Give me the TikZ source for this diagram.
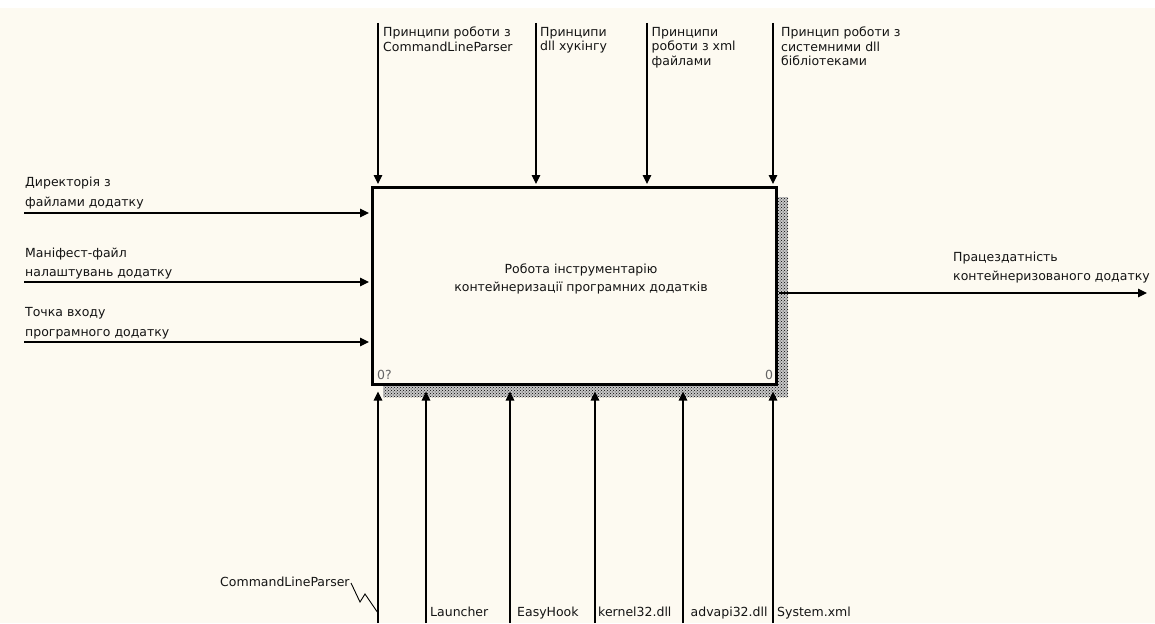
\documentclass[tikz,border=0pt]{standalone}
\usepackage{fontspec}
\setmainfont{DejaVu Sans}
\usetikzlibrary{arrows.meta,patterns}
\definecolor{paper}{RGB}{253,250,241}
\definecolor{ink}{RGB}{20,20,20}
\definecolor{tagc}{RGB}{100,100,100}

\begin{document}
\begin{tikzpicture}[x=1pt,y=-1pt,
  lbl/.style={font=\fontsize{12.5}{19.4}\selectfont, text=ink, inner sep=0pt, align=left, anchor=north west},
  toplbl/.style={lbl, font=\fontsize{12.5}{14.5}\selectfont},
  outlbl/.style={lbl, font=\fontsize{12.5}{18.3}\selectfont},
  botlbl/.style={font=\fontsize{12.5}{15}\selectfont, text=ink, inner sep=0pt, anchor=base west},
  tagtxt/.style={font=\fontsize{12.5}{15}\selectfont, text=tagc, inner sep=0pt, anchor=south west},
  arr/.style={line width=1.1pt, -{Triangle[length=9pt,width=8.5pt]}},
  funcbox/.style={draw, line width=3pt, fill=paper, minimum width=404pt, minimum height=197.5pt, inner sep=0pt},
]
% sheet
\fill[paper] (0,0) rectangle (1155,623);
\fill[white] (0,0) rectangle (1155,8);
\useasboundingbox (0,0) rectangle (1155,623);

% hatched drop shadow of the activity box
\fill[black!22] (383,197) rectangle (788,397);
\fill[pattern=crosshatch dots, pattern color=black] (383,197) rectangle (788,397);

% activity box
\node[funcbox] (fn) at (574,285.75) {};
\node[font=\fontsize{12.5}{18.3}\selectfont, text=ink, align=center, inner sep=0pt] (title) at (581,279)
  {Робота інструментарію\\контейнеризації програмних додатків};
\node[tagtxt] (tagl) at (377,380) {0?};
\node[tagtxt] (tagr) at (765,380) {0};

% controls (top)
\coordinate (c1) at (378,23);
\coordinate (c2) at (536,23);
\coordinate (c3) at (647,23);
\coordinate (c4) at (773,23);
\foreach \c in {c1,c2,c3,c4}
  \draw[arr, shorten >=1.5pt] (\c) -- (\c |- fn.north);
\node[toplbl] (tl1) at (383,27) {Принципи роботи з\\CommandLineParser};
\node[toplbl] (tl2) at (540,27) {Принципи\\dll хукінгу};
\node[toplbl] (tl3) at (651.5,27) {Принципи\\роботи з xml\\файлами};
\node[toplbl] (tl4) at (781,27) {Принцип роботи з\\системними dll\\бібліотеками};

% inputs (left)
\coordinate (i1) at (24,213);
\coordinate (i2) at (24,282);
\coordinate (i3) at (24,342);
\foreach \i in {i1,i2,i3}
  \draw[arr, shorten >=1.5pt] (\i) -- (\i -| fn.west);
\node[lbl] (il1) at (25,177.2) {Директорія з\\файлами додатку};
\node[lbl] (il2) at (25,247.5) {Маніфест-файл\\налаштувань додатку};
\node[lbl] (il3) at (25,307.5) {Точка входу\\програмного додатку};

% output (right)
\coordinate (o1) at (1147,293);
\draw[arr, shorten <=1.5pt] (o1 -| fn.east) -- (o1);
\node[outlbl] (ol1) at (953,252) {Працездатність\\контейнеризованого додатку};

% mechanisms (bottom)
\coordinate (m1) at (378,623);
\coordinate (m2) at (426,623);
\coordinate (m3) at (510,623);
\coordinate (m4) at (595,623);
\coordinate (m5) at (683,623);
\coordinate (m6) at (773,623);
\foreach \m in {m1,m2,m3,m4,m5,m6}
  \draw[arr, shorten >=5.5pt] (\m) -- (\m |- fn.south);
\node[botlbl] (ml0) at (220,586.5) {CommandLineParser};
\node[botlbl] (ml2) at (430,616) {Launcher};
\node[botlbl] (ml3) at (517,616) {EasyHook};
\node[botlbl] (ml4) at (598,616) {kernel32.dll};
\node[botlbl] (ml5) at (690.5,616) {advapi32.dll};
\node[botlbl] (ml6) at (777,616) {System.xml};

% squiggle tying the CommandLineParser label to its arrow
\coordinate (sq) at (351,583);
\draw[line width=0.9pt, line join=miter] (sq) -- (360,602) -- (365,594) -- (m1 |- 0,613);
\end{tikzpicture}
\end{document}
